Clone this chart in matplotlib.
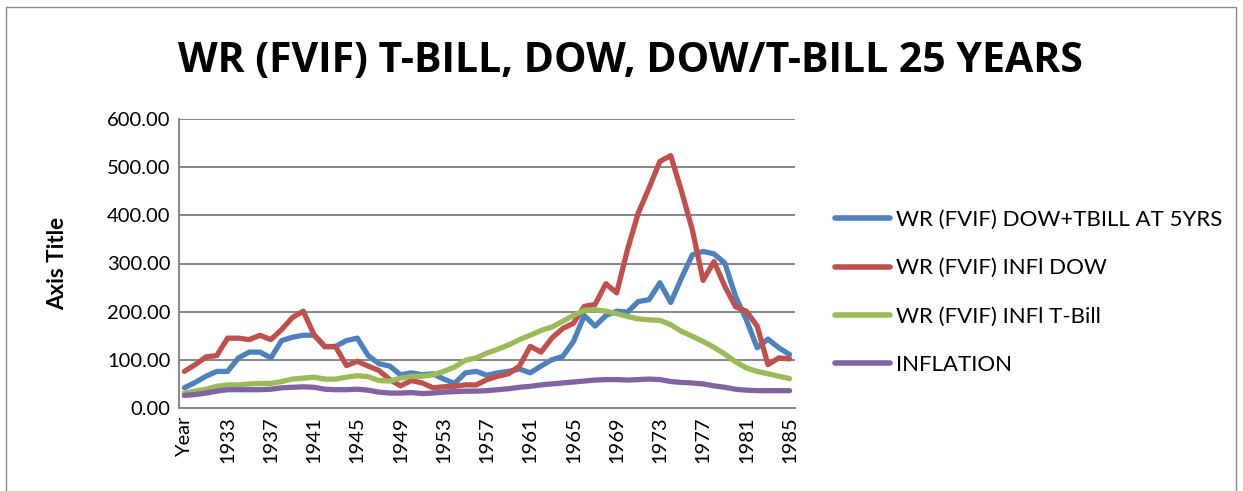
import matplotlib
matplotlib.use("Agg")
import matplotlib.pyplot as plt
from matplotlib.patches import Rectangle

categories = ["Year"] + [str(y) for y in range(1930, 1986)]

dow_tbill_5yrs = [42, 53, 66, 76, 76, 104, 116, 116, 104, 140, 147, 151, 151, 127, 128, 140,
                  145, 109, 92, 87, 69, 73, 69, 71, 60, 51, 73, 76, 68, 73, 76, 81,
                  73, 87, 100, 107, 138, 192, 170, 192, 201, 199, 221, 225, 260, 219, 270, 318,
                  325, 320, 301, 232, 183, 125, 143, 125, 111]
infl_dow = [76, 90, 106, 109, 145, 145, 142, 151, 142, 163, 188, 201, 152, 128, 127, 88,
            97, 87, 78, 59, 46, 57, 52, 42, 44, 45, 48, 48, 59, 66, 71, 87,
            128, 116, 145, 165, 176, 211, 215, 258, 239, 329, 405, 457, 512, 524, 450, 370,
            265, 304, 253, 210, 201, 170, 90, 104, 102]
infl_tbill = [31, 35, 39, 45, 48, 48, 50, 51, 51, 55, 60, 62, 64, 60, 60, 64,
              67, 65, 57, 56, 62, 66, 66, 69, 76, 85, 99, 104, 114, 122, 131, 142,
              151, 161, 168, 180, 192, 203, 204, 201, 196, 190, 185, 183, 182, 173, 159, 149,
              138, 126, 112, 96, 83, 76, 71, 66, 61]
inflation = [26, 28, 31, 35, 38, 38, 38, 38, 39, 42, 43, 44, 43, 39, 38, 38,
             39, 37, 33, 31, 31, 32, 30, 31, 33, 34, 35, 35, 36, 38, 40, 43,
             45, 48, 50, 52, 54, 56, 58, 59, 59, 58, 59, 60, 59, 55, 53, 52,
             50, 46, 43, 39, 37, 36, 36, 36, 36]

series_labels = ["WR (FVIF) DOW+TBILL AT 5YRS", "WR (FVIF) INFl DOW",
                 "WR (FVIF) INFl T-Bill", "INFLATION"]
colors = ["#4F81BD", "#C0504D", "#9BBB59", "#8064A2"]
yticks = [0, 100, 200, 300, 400, 500, 600]

FONT = "Lato"

fig = plt.figure(figsize=(12.43, 4.91), dpi=100)
fig.patches.append(Rectangle((6 / 1243, -0.01), 1230 / 1243, 1 - 7 / 491 + 0.01,
                             transform=fig.transFigure, fill=False,
                             edgecolor="#8a8a8a", linewidth=1.0))

ax = fig.add_axes([179 / 1243, 1 - 408 / 491, (795 - 179) / 1243, (408 - 119) / 491])

x = list(range(len(categories)))
for vals, lab, c in zip([dow_tbill_5yrs, infl_dow, infl_tbill, inflation], series_labels, colors):
    ax.plot(x, vals, color=c, linewidth=3.8, label=lab, solid_capstyle="round",
            solid_joinstyle="round", zorder=3)

ax.set_xlim(-0.5, len(categories) - 0.5)
ax.set_ylim(0, 600)
ax.set_yticks(yticks)
ax.set_yticklabels([f"{v:.2f}" for v in yticks], fontsize=14.5, family=FONT)
ax.set_xticks(x[::4])
ax.set_xticklabels(categories[::4], rotation=90, fontsize=14.5, family=FONT)
ax.tick_params(axis="both", length=0, pad=6)
ax.grid(axis="y", color="#868686", linewidth=1.4, zorder=0)
for s in ["top", "right"]:
    ax.spines[s].set_visible(False)
for s in ["left", "bottom"]:
    ax.spines[s].set_color("#868686")
    ax.spines[s].set_linewidth(1.4)

fig.text(58 / 1243, 1 - 263 / 491, "Axis Title", rotation=90, ha="center", va="center",
         fontsize=16, fontweight="bold", family=FONT)

fig.text(630 / 1243, 1 - 61 / 491, "WR (FVIF) T-BILL, DOW, DOW/T-BILL 25 YEARS",
         ha="center", va="center", fontsize=29.5, fontweight="bold", family="Open Sans")

leg = fig.legend(loc="upper left", bbox_to_anchor=(826 / 1243, 1 - 201 / 491),
                 frameon=False, prop={"family": FONT, "size": 16},
                 handlelength=2.5, handletextpad=0.25, labelspacing=1.28, borderaxespad=0)
for line in leg.get_lines():
    line.set_linewidth(4)

fig.savefig("out.png", dpi=100)
